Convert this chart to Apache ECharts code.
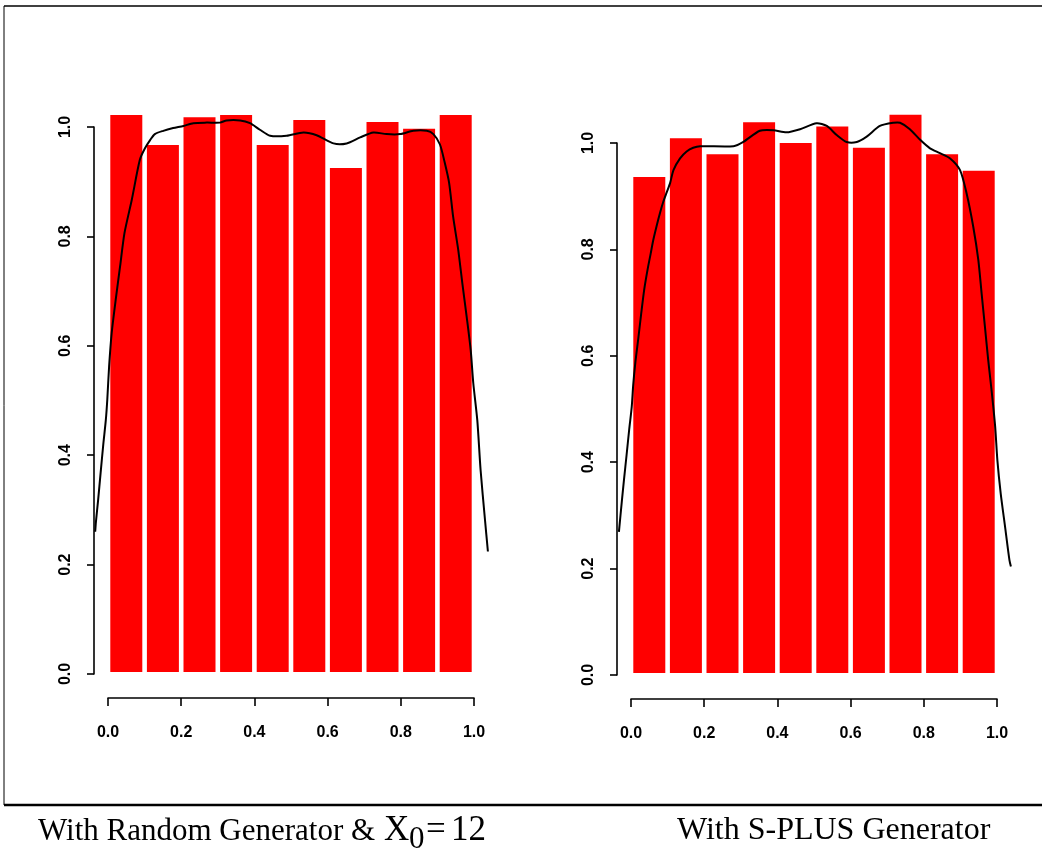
<!DOCTYPE html>
<html>
<head>
<meta charset="utf-8">
<script src="https://cdn.jsdelivr.net/npm/echarts@6/dist/echarts.min.js"></script>
<style>
html,body{margin:0;padding:0;background:#fff;}
#chart{width:1042px;height:848px;}
</style>
</head>
<body>
<div id="chart"></div>
<script>
// ---- data ----
var binEdges = [0, 0.1, 0.2, 0.3, 0.4, 0.5, 0.6, 0.7, 0.8, 0.9, 1.0];
var leftDensity  = [1.022, 0.967, 1.018, 1.022, 0.967, 1.013, 0.925, 1.009, 0.997, 1.022];
var rightDensity = [0.936, 1.009, 0.979, 1.039, 1.000, 1.031, 0.991, 1.053, 0.979, 0.948];

var leftCurveX = [-0.035, -0.033, -0.027, -0.020, -0.013, -0.006, -0.002, 0.003, 0.010, 0.021, 0.033, 0.045, 0.065, 0.087, 0.101, 0.115, 0.128, 0.151, 0.178, 0.206, 0.233, 0.270, 0.306, 0.324, 0.361, 0.388, 0.415, 0.443, 0.488, 0.534, 0.570, 0.616, 0.652, 0.689, 0.725, 0.761, 0.798, 0.834, 0.871, 0.889, 0.907, 0.920, 0.932, 0.943, 0.957, 0.968, 0.980, 0.991, 0.998, 1.009, 1.018, 1.030, 1.038];
var leftCurveY = [0.260, 0.278, 0.318, 0.369, 0.419, 0.464, 0.501, 0.562, 0.623, 0.684, 0.745, 0.806, 0.867, 0.940, 0.961, 0.976, 0.987, 0.993, 0.998, 1.002, 1.007, 1.008, 1.008, 1.012, 1.012, 1.007, 0.995, 0.984, 0.984, 0.990, 0.985, 0.970, 0.970, 0.981, 0.990, 0.987, 0.987, 0.993, 0.993, 0.987, 0.968, 0.935, 0.898, 0.836, 0.775, 0.715, 0.653, 0.592, 0.532, 0.464, 0.373, 0.282, 0.224];

var rightCurveX = [-0.033, -0.025, -0.019, -0.012, -0.005, 0.002, 0.006, 0.012, 0.020, 0.028, 0.036, 0.045, 0.054, 0.061, 0.070, 0.079, 0.088, 0.098, 0.107, 0.116, 0.134, 0.152, 0.170, 0.189, 0.280, 0.307, 0.352, 0.389, 0.425, 0.462, 0.507, 0.535, 0.562, 0.589, 0.617, 0.644, 0.680, 0.717, 0.735, 0.762, 0.790, 0.817, 0.844, 0.872, 0.899, 0.917, 0.935, 0.949, 0.958, 0.967, 0.976, 0.986, 0.995, 1.001, 1.010, 1.022, 1.034, 1.038];
var rightCurveY = [0.269, 0.327, 0.368, 0.414, 0.461, 0.504, 0.545, 0.588, 0.633, 0.680, 0.724, 0.761, 0.793, 0.818, 0.844, 0.868, 0.889, 0.908, 0.925, 0.949, 0.971, 0.984, 0.991, 0.994, 0.994, 1.002, 1.023, 1.024, 1.020, 1.026, 1.037, 1.032, 1.015, 1.002, 1.002, 1.012, 1.032, 1.038, 1.038, 1.026, 1.006, 0.990, 0.981, 0.971, 0.949, 0.905, 0.843, 0.780, 0.717, 0.655, 0.592, 0.530, 0.467, 0.404, 0.342, 0.279, 0.216, 0.204];

var tickLabels = ['0.0', '0.2', '0.4', '0.6', '0.8', '1.0'];
var captionLeft = ['With Random Generator &', 'X', '0', '=', '12'];
var captionRight = 'With S-PLUS Generator';

// ---- helpers ----
function histData(dens) {
  return dens.map(function (d, i) { return [binEdges[i], binEdges[i + 1], d]; });
}
function curveData(xs, ys) {
  return xs.map(function (x, i) { return [x, ys[i]]; });
}
function renderBar(params, api) {
  var x0 = api.value(0), x1 = api.value(1), h = api.value(2);
  var p0 = api.coord([x0, 0]);
  var p1 = api.coord([x1, h]);
  var inset = 2.3;
  return {
    type: 'rect',
    shape: { x: p0[0] + inset, y: p1[1], width: p1[0] - p0[0] - 2 * inset, height: p0[1] - p1[1] - 2 },
    style: { fill: '#ff0000' }
  };
}
function makeCurveRender(xs, ys) {
  return function (params, api) {
    if (params.dataIndex !== 0) return null;
    var pts = xs.map(function (x, i) { return api.coord([x, ys[i]]); });
    return {
      type: 'polyline',
      shape: { points: pts, smooth: 0.25 },
      style: { stroke: '#000', lineWidth: 2, fill: null }
    };
  };
}
var labelFont = { color: '#000', fontFamily: 'Liberation Sans', fontSize: 16, fontWeight: 'bold' };
function fmt(v) { return tickLabels[Math.round(v / 0.2)]; }

function xAxisCfg(gi) {
  return {
    gridIndex: gi, type: 'value', min: 0, max: 1, interval: 0.2, position: 'bottom', offset: 24,
    axisLine: { show: true, onZero: false, lineStyle: { color: '#000', width: 1.6 } },
    axisTick: { show: true, length: 8, lineStyle: { color: '#000', width: 1.6 } },
    axisLabel: Object.assign({ margin: 27, formatter: fmt }, labelFont),
    splitLine: { show: false }
  };
}
function yAxisCfg(gi) {
  return {
    gridIndex: gi, type: 'value', min: 0, max: 1, interval: 0.2, position: 'left', offset: 14,
    axisLine: { show: true, onZero: false, lineStyle: { color: '#000', width: 1.6 } },
    axisTick: { show: true, length: 7, lineStyle: { color: '#000', width: 1.6 } },
    axisLabel: Object.assign({ margin: 20, rotate: 90, formatter: fmt }, labelFont),
    splitLine: { show: false }
  };
}

var chart = echarts.init(document.getElementById('chart'), null, { renderer: 'canvas' });
var serif = 'Liberation Serif';
chart.setOption({
  backgroundColor: '#fff',
  animation: false,
  grid: [
    { left: 108, top: 127, width: 366, height: 547 },
    { left: 631, top: 143, width: 366, height: 532 }
  ],
  xAxis: [xAxisCfg(0), xAxisCfg(1)],
  yAxis: [yAxisCfg(0), yAxisCfg(1)],
  series: [
    { type: 'custom', xAxisIndex: 0, yAxisIndex: 0, renderItem: renderBar, data: histData(leftDensity), clip: false, z: 2 },
    { type: 'custom', xAxisIndex: 1, yAxisIndex: 1, renderItem: renderBar, data: histData(rightDensity), clip: false, z: 2 },
    { type: 'custom', xAxisIndex: 0, yAxisIndex: 0, renderItem: makeCurveRender(leftCurveX, leftCurveY), data: curveData(leftCurveX, leftCurveY), clip: false, z: 3 },
    { type: 'custom', xAxisIndex: 1, yAxisIndex: 1, renderItem: makeCurveRender(rightCurveX, rightCurveY), data: curveData(rightCurveX, rightCurveY), clip: false, z: 3 }
  ],
  graphic: [
    { type: 'line', shape: { x1: 4, y1: 6, x2: 1042, y2: 6 }, style: { stroke: '#000', lineWidth: 1.6 } },
    { type: 'line', shape: { x1: 4, y1: 6, x2: 4, y2: 805 }, style: { stroke: '#000', lineWidth: 1 } },
    { type: 'line', shape: { x1: 4, y1: 805, x2: 1042, y2: 805 }, style: { stroke: '#000', lineWidth: 2.5 } },
    { type: 'text', x: 38, y: 847, style: { text: captionLeft[0], font: '31px ' + serif, fill: '#000', verticalAlign: 'bottom' } },
    { type: 'text', x: 384, y: 848, style: { text: captionLeft[1], font: '35px ' + serif, fill: '#000', verticalAlign: 'bottom' } },
    { type: 'text', x: 409, y: 855, style: { text: captionLeft[2], font: '31px ' + serif, fill: '#000', verticalAlign: 'bottom' } },
    { type: 'text', x: 426, y: 848, style: { text: captionLeft[3], font: '35px ' + serif, fill: '#000', verticalAlign: 'bottom' } },
    { type: 'text', x: 451, y: 848, style: { text: captionLeft[4], font: '35px ' + serif, fill: '#000', verticalAlign: 'bottom' } },
    { type: 'text', x: 677, y: 847, style: { text: captionRight, font: '32px ' + serif, fill: '#000', verticalAlign: 'bottom' } }
  ]
});
</script>
</body>
</html>
